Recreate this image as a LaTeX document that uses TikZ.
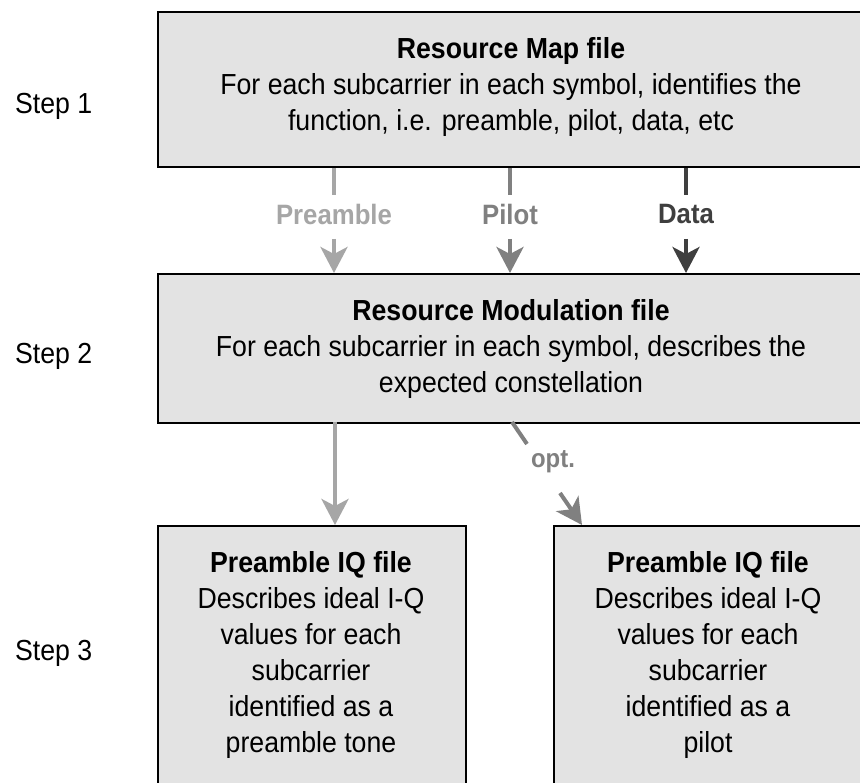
\documentclass[tikz,border=0pt]{standalone}
\usepackage{fontspec}
\setmainfont[FakeStretch=0.92]{Liberation Sans}
\usetikzlibrary{arrows.meta}
\definecolor{boxfill}{HTML}{E3E3E3}
\definecolor{cpre}{HTML}{A6A6A6}
\definecolor{cpil}{HTML}{808080}
\definecolor{cdat}{HTML}{3F3F3F}
\begin{document}
\begin{tikzpicture}[x=1pt,y=-1pt,
  filebox/.style={draw=black, line width=1.8pt, fill=boxfill, inner sep=0pt, anchor=north west},
  txt/.style={inner sep=0pt, align=center, font=\fontsize{29}{36}\selectfont, anchor=north},
  steplab/.style={inner sep=0pt, anchor=base west, font=\fontsize{29}{36}\selectfont},
  arr/.style={line width=4pt, -{Stealth[length=26pt,width=27pt,inset=7pt]}},
  stub/.style={line width=4pt},
  lab/.style={inner sep=0pt, font=\fontsize{28}{30}\selectfont\bfseries}]
\useasboundingbox (0,0) rectangle (860,783);
\clip (0,0) rectangle (860,783);
\fill[white] (0,0) rectangle (860,783);

% boxes
\node[filebox, minimum width=712pt, minimum height=155pt] (map) at (157,11) {};
\node[filebox, minimum width=712pt, minimum height=149pt] (mod) at (157,273) {};
\node[filebox, minimum width=308pt, minimum height=300pt] (pre) at (157,525) {};
\node[filebox, minimum width=312pt, minimum height=300pt] (pil) at (553,525) {};

% box texts
\node[txt] (maptxt) at (511,37) {\textbf{Resource Map file}\\For each subcarrier in each symbol, identifies the\\function, i.e. preamble, pilot, data, etc};
\node[txt] (modtxt) at (511,299) {\textbf{Resource Modulation file}\\For each subcarrier in each symbol, describes the\\expected constellation};
\node[txt] (pretxt) at (311,551) {\textbf{Preamble IQ file}\\Describes ideal I-Q\\values for each\\subcarrier\\identified as a\\preamble tone};
\node[txt] (piltxt) at (708,551) {\textbf{Preamble IQ file}\\Describes ideal I-Q\\values for each\\subcarrier\\identified as a\\pilot};

% step labels
\node[steplab] (s1) at (15,114) {Step 1};
\node[steplab] (s2) at (15,364) {Step 2};
\node[steplab] (s3) at (15,660) {Step 3};

% labels between step 1 and step 2
\node[lab, text=cpre] (lpre) at (334,214) {Preamble};
\node[lab, text=cpil] (lpil) at (510,214) {Pilot};
\node[lab, text=cdat] (ldat) at (686,214) {Data};

\coordinate (pa) at (334,239);
\coordinate (pb) at (510,239);
\coordinate (pc) at (686,239);

\draw[stub, cpre] (lpre |- map.south) -- (334,195);
\draw[stub, cpil] (lpil |- map.south) -- (510,195);
\draw[stub, cdat] (ldat |- map.south) -- (686,195);
\draw[arr, cpre] (pa) -- (pa |- mod.north);
\draw[arr, cpil] (pb) -- (pb |- mod.north);
\draw[arr, cdat] (pc) -- (pc |- mod.north);

% step 2 to step 3
\coordinate (lv) at (335,422);
\draw[arr, cpre] (lv) -- (lv |- pre.north);

\coordinate (os) at (512,422);
\coordinate (oe) at (527,444);
\coordinate (oa) at (560,493);
\coordinate (ot) at (582,525);
\node[lab, text=cpil, font=\fontsize{26}{30}\selectfont\bfseries] (lopt) at (553,462) {opt.};
\draw[stub, cpil] (os) -- (oe);
\draw[arr, cpil] (oa) -- (ot);
\end{tikzpicture}
\end{document}
